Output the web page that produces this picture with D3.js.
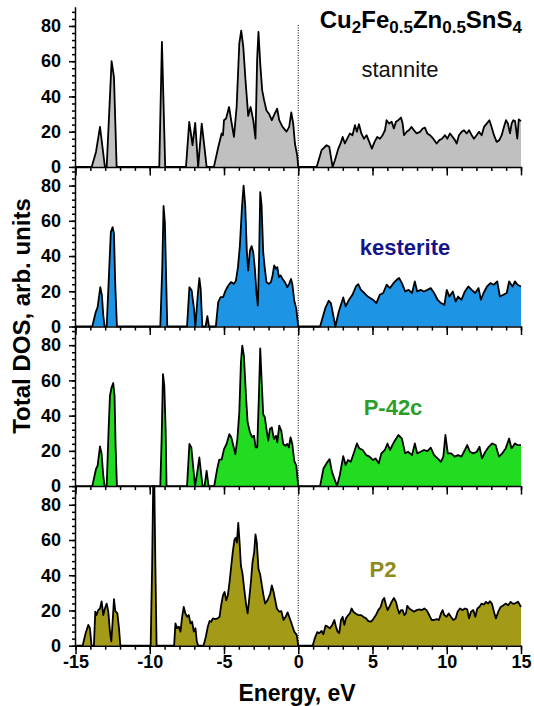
<!DOCTYPE html>
<html>
<head>
<meta charset="utf-8">
<script src="https://d3js.org/d3.v7.min.js"></script>
<style>
body { margin: 0; background: #fff; }
text { font-family: Arial, "Liberation Sans", sans-serif; }
</style>
</head>
<body>
<script>
// energy (eV), total DOS (arb. units)
var stanniteDOS = [[-15,0],[-13.91,0],[-13.62,8.5],[-13.35,22.7],[-13.02,0],[-12.9,0],[-12.57,60],[-12.41,51],[-12.23,0],[-9.36,0],[-9.18,71],[-8.96,0],[-7.56,0],[-7.34,25.6],[-7.12,12.3],[-6.94,25],[-6.74,0],[-6.5,24.6],[-6.32,11.4],[-6.17,0],[-5.68,0],[-5.38,11.4],[-5.16,19],[-5.07,18],[-5.0,26.5],[-4.86,27.5],[-4.66,34],[-4.48,24.6],[-4.33,17],[-4.15,34],[-3.97,70],[-3.84,77.3],[-3.7,68],[-3.55,49],[-3.37,29],[-3.21,34],[-3.03,26.5],[-2.88,16],[-2.77,60.6],[-2.68,76.7],[-2.56,58.7],[-2.43,43.6],[-2.3,37.9],[-2.14,32],[-1.96,30],[-1.78,26.5],[-1.6,30],[-1.42,33],[-1.28,26.5],[-1.06,22.7],[-0.79,20],[-0.61,22.7],[-0.47,31],[-0.34,24.6],[-0.22,13],[-0.07,6.6],[0,0],
	[1.24,0],[1.57,9.5],[1.91,12.3],[2.09,11.4],[2.31,0],[2.47,3.8],[2.7,10.4],[2.85,13.3],[2.99,17],[3.14,13.3],[3.3,16],[3.48,19],[3.65,18],[3.82,23.7],[3.95,20],[4.09,24.2],[4.25,19],[4.42,16],[4.6,18],[4.78,14.2],[4.96,10.4],[5.14,14.2],[5.32,17],[5.5,16],[5.68,18],[5.84,20.8],[5.95,26.5],[6.11,24.6],[6.29,25.6],[6.44,21.8],[6.58,25.6],[6.74,26.5],[6.92,28],[7.03,24.6],[7.12,18],[7.3,19.9],[7.45,20.8],[7.63,22.7],[7.79,20.8],[7.97,19],[8.2,19.9],[8.38,21.8],[8.53,22.3],[8.69,19],[8.87,18],[9.09,16],[9.32,13.3],[9.5,15.2],[9.68,16],[9.88,18],[10.04,16],[10.22,19],[10.4,17],[10.55,15.2],[10.67,13.3],[10.82,18],[11.0,19.9],[11.16,20.8],[11.34,19],[11.5,20.8],[11.68,18],[11.83,16],[12.01,18],[12.17,19.9],[12.35,18],[12.51,22.7],[12.69,24.6],[12.87,26.5],[13.02,22.7],[13.18,18],[13.36,14.2],[13.54,15.2],[13.7,18],[13.85,22.7],[13.99,26.5],[14.12,24.6],[14.26,19],[14.37,24.6],[14.48,26.5],[14.6,26],[14.75,16],[14.85,27],[15,26]];

var kesteriteDOS = [[-15,0],[-13.87,0],[-13.64,8.1],[-13.51,11],[-13.33,22.3],[-13.22,17.6],[-13.13,6.3],[-13.04,0],[-12.9,0],[-12.73,32.8],[-12.62,53.6],[-12.5,56.4],[-12.41,52.7],[-12.32,23.3],[-12.21,0],[-9.29,0],[-9.16,32.8],[-9.07,68.4],[-8.98,59],[-8.91,32.8],[-8.82,0],[-7.49,0],[-7.33,22.3],[-7.18,20.5],[-7.02,10],[-6.93,0],[-6.77,17.6],[-6.66,27.5],[-6.57,21.4],[-6.46,0],[-6.24,0],[-6.12,5.9],[-6.01,0],[-5.55,0],[-5.39,13.8],[-5.23,16.7],[-5.06,16.7],[-4.89,20.5],[-4.71,23.3],[-4.53,25.2],[-4.33,24.2],[-4.2,26],[-4.06,33.7],[-3.93,46],[-3.79,67.8],[-3.68,80],[-3.57,68.8],[-3.46,42.2],[-3.37,31.8],[-3.25,43.2],[-3.14,45.6],[-3.03,42.2],[-2.92,32.8],[-2.81,18.6],[-2.72,11.9],[-2.63,42.2],[-2.56,76.3],[-2.47,68.8],[-2.36,42.2],[-2.25,32.8],[-2.14,25.2],[-1.98,24.2],[-1.84,25.2],[-1.73,29],[-1.62,34.7],[-1.5,32.8],[-1.41,33.7],[-1.3,28],[-1.19,29],[-1.06,27],[-0.9,25.2],[-0.74,22.3],[-0.61,24.2],[-0.49,27],[-0.4,24.2],[-0.27,14.8],[-0.13,10],[0,0],
	[1.47,0],[1.82,10.4],[2.05,14.6],[2.2,13.3],[2.5,0],[2.73,8.5],[3.03,16.5],[3.19,11.4],[3.42,15.2],[3.65,18],[3.88,22.7],[4.04,24],[4.22,20.8],[4.45,19],[4.68,17],[5.03,15.2],[5.26,13.3],[5.49,18],[5.72,19],[5.95,23.7],[6.18,21.8],[6.41,24.6],[6.63,26.5],[6.79,27.5],[6.98,24.6],[7.2,19.9],[7.43,20.8],[7.66,19],[7.85,25.6],[8.01,19.9],[8.24,20.8],[8.47,19.9],[8.7,20.8],[8.92,21.8],[9.15,19],[9.38,15.2],[9.61,13.3],[9.84,12.3],[10.0,20.8],[10.18,17],[10.41,19.9],[10.6,14.2],[10.76,17],[10.99,15.2],[11.22,19.9],[11.45,22.7],[11.68,20.8],[11.91,19],[12.14,21.8],[12.3,15.2],[12.48,19],[12.71,22.7],[12.94,24.6],[13.17,23.7],[13.4,25.6],[13.58,17],[13.81,18],[14.04,19],[14.2,25.6],[14.43,22.7],[14.59,25.6],[14.77,23.7],[15,22.7]];

var p42cDOS = [[-15,0],[-13.87,0],[-13.62,9.7],[-13.51,11.6],[-13.35,22.5],[-13.24,18.2],[-13.13,5.9],[-13.04,0],[-12.9,0],[-12.77,32.4],[-12.68,51.3],[-12.57,56],[-12.46,58.5],[-12.37,51.3],[-12.3,22.9],[-12.21,0],[-9.29,0],[-9.2,26.7],[-9.11,63.6],[-9.02,57],[-8.93,32.4],[-8.87,0],[-7.49,0],[-7.33,23.9],[-7.2,22],[-7.06,9.7],[-6.95,0],[-6.8,7.8],[-6.66,16.3],[-6.55,7.8],[-6.44,0],[-6.31,0],[-6.17,8.7],[-6.04,0],[-5.66,0],[-5.46,9.7],[-5.32,15],[-5.16,15],[-5.0,21],[-4.83,23.9],[-4.64,29.5],[-4.51,27.7],[-4.37,22.9],[-4.24,18.2],[-4.1,26.7],[-3.97,41.9],[-3.86,70.3],[-3.77,79.7],[-3.66,74],[-3.52,51.3],[-3.41,36.2],[-3.25,30.5],[-3.1,27.7],[-2.98,28.6],[-2.87,22],[-2.76,22],[-2.65,51.3],[-2.56,78.2],[-2.47,60.8],[-2.36,40.9],[-2.25,39],[-2.14,32.4],[-2.02,25.8],[-1.91,32.4],[-1.78,33.3],[-1.64,26.7],[-1.5,28.6],[-1.41,24.8],[-1.28,34.3],[-1.14,31.4],[-1.01,23.9],[-0.87,22.9],[-0.74,23.9],[-0.63,22],[-0.52,27.7],[-0.4,23.9],[-0.27,14.4],[-0.13,11.5],[0,0],
	[1.47,0],[1.7,10],[1.97,13.8],[2.11,15.3],[2.27,8.1],[2.61,0],[2.8,6.3],[3.03,17],[3.19,12],[3.35,14.8],[3.54,13.8],[3.77,19.5],[3.95,24.2],[4.11,21.4],[4.34,20.5],[4.57,17.6],[4.8,16.7],[5.03,14.8],[5.21,15.7],[5.42,12.9],[5.6,18.6],[5.83,20.5],[6.01,24.2],[6.18,20.5],[6.34,23.3],[6.52,26],[6.75,29],[6.98,27],[7.2,18.6],[7.39,19.5],[7.66,17.6],[7.85,24.2],[8.01,18.6],[8.24,19.5],[8.47,20.5],[8.7,19.9],[8.92,21.8],[9.15,17.6],[9.38,15.7],[9.61,13.8],[9.77,16.7],[9.91,29],[10.07,18.6],[10.3,18.6],[10.53,16.7],[10.76,17.6],[10.99,16.7],[11.22,20.5],[11.38,23.3],[11.56,19.5],[11.79,18.6],[12.02,19.5],[12.21,22.3],[12.37,15.7],[12.6,19.5],[12.83,22.3],[13.06,24.2],[13.29,23.3],[13.52,16.7],[13.74,18.6],[13.97,21.4],[14.2,27],[14.36,21.4],[14.59,24.2],[14.77,23.3],[15,23.3]];

var p2DOS = [[-15,0],[-14.52,0],[-14.32,7.1],[-14.14,11.8],[-14.03,9.9],[-13.92,0],[-13.76,0],[-13.67,19.3],[-13.58,17.4],[-13.47,20.2],[-13.35,21.1],[-13.24,25.2],[-13.13,17.4],[-13.02,21.1],[-12.9,23.9],[-12.79,19.3],[-12.68,8],[-12.59,2.4],[-12.5,13.6],[-12.41,26.4],[-12.32,19.6],[-12.18,18.3],[-12.07,9.9],[-11.98,0],[-9.94,0],[-9.84,45],[-9.77,98],[-9.69,98],[-9.62,45],[-9.54,0],[-8.36,0],[-8.27,12.7],[-8.16,9.9],[-8.04,10.8],[-7.93,8],[-7.82,16.4],[-7.71,22],[-7.6,18.3],[-7.48,16.4],[-7.37,17.4],[-7.26,12.7],[-7.15,13.6],[-7.03,8],[-6.92,9.9],[-6.83,2.4],[-6.74,0],[-6.38,0],[-6.22,5.2],[-6.09,10.8],[-5.97,14],[-5.86,13.6],[-5.75,15.5],[-5.59,15.1],[-5.43,15.5],[-5.3,16.4],[-5.19,23],[-5.07,28.6],[-4.96,30.5],[-4.85,25.8],[-4.74,28.6],[-4.63,36],[-4.51,45.4],[-4.4,53.8],[-4.29,60.4],[-4.2,61.3],[-4.13,58.5],[-4.04,69.7],[-3.95,58.5],[-3.86,45.4],[-3.75,40.7],[-3.64,32.3],[-3.52,23.9],[-3.41,18.3],[-3.3,26.7],[-3.19,36],[-3.08,47.3],[-2.97,52.9],[-2.88,63.2],[-2.79,58.5],[-2.68,43.6],[-2.57,40.7],[-2.45,34.2],[-2.34,28.6],[-2.23,23.9],[-2.07,25.8],[-1.89,29.5],[-1.78,34.2],[-1.66,30.5],[-1.55,25.8],[-1.44,21.1],[-1.28,19.3],[-1.14,19.6],[-0.99,14.6],[-0.85,16.4],[-0.72,18.9],[-0.61,16.4],[-0.49,13.6],[-0.38,10.8],[-0.27,8],[-0.1,6],[0,0],
	[0.97,0],[1.12,4.3],[1.28,7.7],[1.42,7.1],[1.57,8.4],[1.69,6.5],[1.84,11.4],[1.98,10.8],[2.13,9.9],[2.29,11.8],[2.43,14.6],[2.54,10.8],[2.65,8],[2.76,7.1],[2.88,14.6],[2.99,16.4],[3.1,11.8],[3.21,15.5],[3.37,17.4],[3.48,18.3],[3.59,21.1],[3.71,19.3],[3.86,18.3],[4.04,17.4],[4.22,17.4],[4.38,16.4],[4.56,15.5],[4.72,14],[4.9,13.6],[5.05,15.1],[5.23,17.4],[5.39,20.2],[5.55,22],[5.68,25.8],[5.79,27.1],[5.91,23],[6.02,20.2],[6.13,22],[6.29,24.9],[6.44,27.1],[6.58,24.9],[6.69,21.1],[6.8,18.3],[6.92,20.2],[7.03,20.2],[7.14,17.4],[7.25,18.3],[7.34,22.6],[7.48,21.1],[7.63,20.2],[7.79,19.3],[7.97,20.2],[8.15,20.6],[8.33,20.2],[8.49,21.1],[8.64,20.2],[8.82,17.4],[8.98,14.6],[9.14,14.6],[9.32,15.1],[9.47,14.6],[9.61,18.3],[9.72,20.2],[9.83,17.4],[9.99,16.4],[10.13,18.3],[10.28,16.4],[10.44,14.6],[10.6,15.5],[10.73,19.3],[10.89,21.1],[11.07,20.2],[11.23,21.1],[11.38,20.6],[11.5,15.5],[11.63,19.3],[11.79,20.2],[11.92,16.4],[12.06,21.1],[12.19,22],[12.35,23.9],[12.51,23.4],[12.64,24.9],[12.78,23.9],[12.91,25.2],[13.04,23.9],[13.18,19.3],[13.31,15.5],[13.47,19.3],[13.63,22],[13.81,22.9],[13.99,23.9],[14.14,22.9],[14.3,24.9],[14.44,23.9],[14.59,23.9],[14.8,25],[15,22]];

var panelNames = ["stannite", "kesterite", "P-42c", "P2"];
var panelData = [stanniteDOS, kesteriteDOS, p42cDOS, p2DOS];
var fillColors = ["#c0c0c0", "#1e94e4", "#22dc22", "#a39b17"];
var labelColors = ["#111111", "#14148c", "#2a9e2a", "#8e8a1c"];
var labelBold = [false, true, true, true];

var xTicks = [-15, -10, -5, 0, 5, 10, 15];
var xMinor = d3.range(-15, 15.01, 1);
var yTicks = [0, 20, 40, 60, 80];
var yMinor = d3.range(0, 90, 4);

var width = 534, height = 706;
var left = 75.5, right = 521, top0 = 7.3, panelH = 159.6;
var tickFont = "Arial, 'Liberation Sans', sans-serif";

var svg = d3.select("body")
	.append("svg")
	.attr("width", width)
	.attr("height", height);

var x = d3.scaleLinear()
	.domain([-15, 15])
	.range([left, right]);

var labelPos = [[400, 77], [405, 255], [393, 415], [383, 577]];

panelData.forEach(function(data, i) {
	var y0 = top0 + i*panelH;
	var y = d3.scaleLinear()
		.domain([0, 90.6])
		.range([y0 + panelH, y0])
		.clamp(true);

	var g = svg.append("g");

	g.append("path")
		.datum(data)
		.attr("fill", fillColors[i])
		.attr("d", d3.area()
			.x(function(d) { return x(d[0]); })
			.y0(y(0))
			.y1(function(d) { return y(d[1]); }));

	g.append("path")
		.datum(data)
		.attr("fill", "none")
		.attr("stroke", "#000")
		.attr("stroke-width", 1.8)
		.attr("stroke-linejoin", "round")
		.attr("d", d3.line()
			.x(function(d) { return x(d[0]); })
			.y(function(d) { return y(d[1]); }));

	// x axis of this panel
	g.append("g")
		.attr("transform", "translate(0," + y(0) + ")")
		.call(d3.axisBottom(x).tickValues(xMinor).tickSize(4).tickSizeOuter(0).tickFormat(""))
		.call(function(a) { a.select(".domain").remove(); a.selectAll("line").attr("stroke-width", 1.5); });

	var xa = g.append("g")
		.attr("transform", "translate(0," + y(0) + ")")
		.call(d3.axisBottom(x).tickValues(xTicks).tickSize(8.5).tickSizeOuter(0).tickPadding(1)
			.tickFormat(i == 3 ? function(d) { return String(d); } : ""));
	xa.select(".domain").attr("stroke-width", 1.5);
	xa.selectAll("line").attr("stroke-width", 1.5);
	xa.selectAll("text")
		.attr("font-size", 18)
		.attr("font-weight", "bold")
		.attr("fill", "#000")
		.style("font-family", tickFont);

	// y axis ticks of this panel
	g.append("g")
		.attr("transform", "translate(" + left + ",0)")
		.call(d3.axisLeft(y).tickValues(yMinor).tickSize(3.5).tickFormat(""))
		.call(function(a) { a.select(".domain").remove(); a.selectAll("line").attr("stroke-width", 1.5); });

	var ya = g.append("g")
		.attr("transform", "translate(" + left + ",0)")
		.call(d3.axisLeft(y).tickValues(yTicks).tickSize(6.5).tickPadding(8));
	ya.select(".domain").remove();
	ya.selectAll("line").attr("stroke-width", 1.5);
	ya.selectAll("text")
		.attr("font-size", 18)
		.attr("font-weight", "bold")
		.attr("fill", "#000")
		.style("font-family", tickFont);

	svg.append("text")
		.attr("x", labelPos[i][0])
		.attr("y", labelPos[i][1])
		.attr("text-anchor", "middle")
		.attr("font-size", 22)
		.attr("font-weight", labelBold[i] ? "bold" : "normal")
		.attr("fill", labelColors[i])
		.text(panelNames[i]);
});

// y axis line through all panels
svg.append("line")
	.attr("x1", left).attr("x2", left)
	.attr("y1", top0).attr("y2", top0 + 4*panelH)
	.attr("stroke", "#000")
	.attr("stroke-width", 1.5);

// Fermi level
svg.append("line")
	.attr("x1", x(0)).attr("x2", x(0))
	.attr("y1", 25).attr("y2", top0 + 4*panelH)
	.attr("stroke", "#000")
	.attr("stroke-width", 1)
	.attr("stroke-dasharray", "1,1.5");

// title
var title = svg.append("text")
	.attr("x", 522)
	.attr("y", 28)
	.attr("text-anchor", "end")
	.attr("font-size", 24)
	.attr("font-weight", "bold");
var parts = [["Cu", 0], ["2", 1], ["Fe", 0], ["0.5", 1], ["Zn", 0], ["0.5", 1], ["SnS", 0], ["4", 1]];
parts.forEach(function(p, k) {
	var prevSub = k > 0 && parts[k-1][1];
	title.append("tspan")
		.attr("font-size", p[1] ? 17 : 24)
		.attr("dy", p[1] ? 5 : (prevSub ? -5 : 0))
		.text(p[0]);
});

svg.append("text")
	.attr("transform", "translate(30,316) rotate(-90)")
	.attr("text-anchor", "middle")
	.attr("font-size", 24)
	.attr("font-weight", "bold")
	.text("Total DOS, arb. units");

svg.append("text")
	.attr("x", 297)
	.attr("y", 701)
	.attr("text-anchor", "middle")
	.attr("font-size", 23)
	.attr("font-weight", "bold")
	.text("Energy, eV");
</script>
</body>
</html>
